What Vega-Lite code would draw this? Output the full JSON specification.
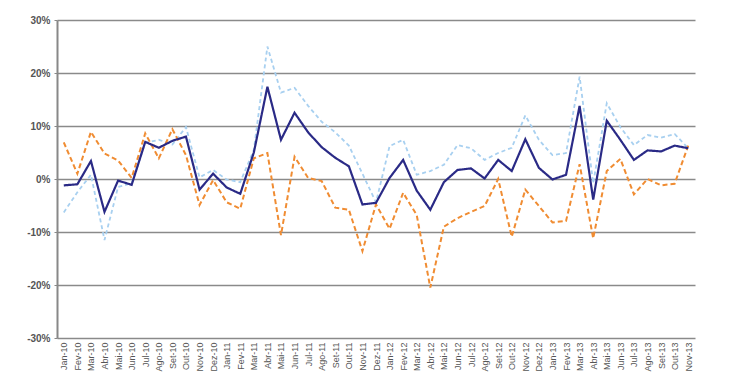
{
  "$schema": "https://vega.github.io/schema/vega-lite/v6.json",
  "width": 638,
  "height": 318,
  "autosize": {"type": "none"},
  "padding": {"left": 57, "top": 20, "right": 45, "bottom": 51},
  "background": "white",
  "config": {"view": {"stroke": null}, "font": "Liberation Sans"},
  "data": {"values": [
    {"m":"Jan-10","d":-1.2,"l":-6.3,"o":6.9},
    {"m":"Fev-10","d":-1.0,"l":-2.5,"o":1.0},
    {"m":"Mar-10","d":3.4,"l":0.8,"o":8.9},
    {"m":"Abr-10","d":-6.2,"l":-11.5,"o":4.8},
    {"m":"Mai-10","d":-0.3,"l":-1.5,"o":3.5},
    {"m":"Jun-10","d":-1.1,"l":-0.8,"o":0.2},
    {"m":"Jul-10","d":7.0,"l":6.8,"o":8.6},
    {"m":"Ago-10","d":5.9,"l":7.4,"o":3.9},
    {"m":"Set-10","d":7.2,"l":6.5,"o":9.4},
    {"m":"Out-10","d":8.0,"l":9.8,"o":4.5},
    {"m":"Nov-10","d":-2.0,"l":0.3,"o":-4.9},
    {"m":"Dez-10","d":1.0,"l":1.7,"o":-0.2},
    {"m":"Jan-11","d":-1.6,"l":-0.1,"o":-4.4},
    {"m":"Fev-11","d":-2.8,"l":-0.6,"o":-5.6},
    {"m":"Mar-11","d":5.0,"l":5.5,"o":3.9},
    {"m":"Abr-11","d":17.4,"l":25.0,"o":4.9},
    {"m":"Mai-11","d":7.4,"l":16.3,"o":-10.6},
    {"m":"Jun-11","d":12.5,"l":17.2,"o":4.2},
    {"m":"Jul-11","d":8.8,"l":13.8,"o":0.2},
    {"m":"Ago-11","d":6.0,"l":10.8,"o":-0.4},
    {"m":"Set-11","d":4.0,"l":8.8,"o":-5.4},
    {"m":"Out-11","d":2.4,"l":6.3,"o":-5.8},
    {"m":"Nov-11","d":-4.8,"l":1.0,"o":-13.6},
    {"m":"Dez-11","d":-4.5,"l":-4.4,"o":-4.8},
    {"m":"Jan-12","d":0.2,"l":6.2,"o":-9.4},
    {"m":"Fev-12","d":3.6,"l":7.4,"o":-2.6},
    {"m":"Mar-12","d":-2.2,"l":0.8,"o":-6.8},
    {"m":"Abr-12","d":-5.8,"l":1.5,"o":-20.5},
    {"m":"Mai-12","d":-0.6,"l":2.7,"o":-9.0},
    {"m":"Jun-12","d":1.7,"l":6.4,"o":-7.4},
    {"m":"Jul-12","d":2.0,"l":5.8,"o":-6.2},
    {"m":"Ago-12","d":0.1,"l":3.6,"o":-5.1},
    {"m":"Set-12","d":3.6,"l":4.9,"o":0.0},
    {"m":"Out-12","d":1.5,"l":5.9,"o":-10.9},
    {"m":"Nov-12","d":7.5,"l":12.0,"o":-2.0},
    {"m":"Dez-12","d":2.1,"l":7.4,"o":-5.1},
    {"m":"Jan-13","d":-0.1,"l":4.5,"o":-8.2},
    {"m":"Fev-13","d":0.8,"l":4.9,"o":-7.9},
    {"m":"Mar-13","d":13.8,"l":19.3,"o":2.8},
    {"m":"Abr-13","d":-3.9,"l":-0.8,"o":-11.2},
    {"m":"Mai-13","d":11.0,"l":14.3,"o":1.5},
    {"m":"Jun-13","d":7.4,"l":9.8,"o":3.8},
    {"m":"Jul-13","d":3.6,"l":6.4,"o":-2.9},
    {"m":"Ago-13","d":5.4,"l":8.3,"o":0.0},
    {"m":"Set-13","d":5.2,"l":7.8,"o":-1.2},
    {"m":"Out-13","d":6.3,"l":8.5,"o":-0.9},
    {"m":"Nov-13","d":5.8,"l":5.8,"o":6.3}
  ]},
  "transform": [{"fold": ["l", "o", "d"], "as": ["s", "v"]}],
  "encoding": {
    "x": {
      "field": "m", "type": "ordinal", "sort": null,
      "scale": {"type": "point", "padding": 0.5},
      "axis": {
        "title": null, "labelAngle": -90, "labelFontSize": 9, "labelColor": "#555555",
        "ticks": false, "domain": false, "labelPadding": 4, "grid": false
      }
    },
    "y": {
      "field": "v", "type": "quantitative",
      "scale": {"domain": [-30, 30], "nice": false, "zero": false},
      "axis": {
        "title": null, "values": [-30, -20, -10, 0, 10, 20, 30],
        "labelExpr": "datum.value + '%'", "labelFontSize": 10, "labelFontWeight": "bold",
        "labelColor": "#555555", "ticks": true, "tickSize": 3, "tickColor": "#888888",
        "domainColor": "#888888", "domainWidth": 2,
        "gridColor": "#8a8a8a", "gridWidth": 1.5, "labelPadding": 4
      }
    },
    "color": {
      "field": "s", "type": "nominal",
      "scale": {"domain": ["l", "o", "d"], "range": ["#a8d0f0", "#f08c32", "#2a2a86"]},
      "legend": null
    },
    "strokeDash": {
      "field": "s", "type": "nominal",
      "scale": {"domain": ["l", "o", "d"], "range": [[4, 3], [5, 3], [1, 0]]},
      "legend": null
    },
    "strokeWidth": {
      "field": "s", "type": "nominal",
      "scale": {"domain": ["l", "o", "d"], "range": [1.8, 2.2, 2.2]},
      "legend": null
    },
    "order": {"field": "s", "sort": "descending"}
  },
  "mark": {"type": "line"}
}
